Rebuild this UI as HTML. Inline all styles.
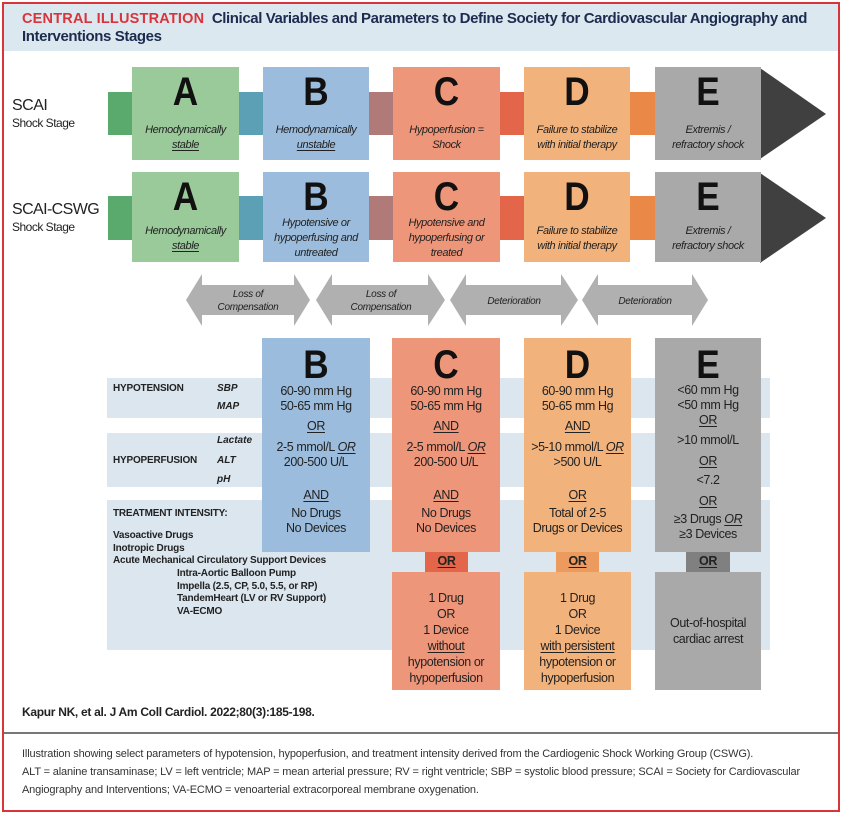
<!DOCTYPE html>
<html><head><meta charset="utf-8"><style>
*{margin:0;padding:0;box-sizing:border-box}
body{width:843px;height:818px;background:#fff;position:relative;overflow:hidden;font-family:"Liberation Sans",sans-serif;color:#222}
.a{position:absolute}
.box{position:absolute;text-align:center}
.L{font-family:"Liberation Sans",sans-serif;font-weight:bold;font-size:40px;color:#111;position:absolute;left:0;right:0;line-height:38px;transform:scaleX(0.88)}
.it{position:absolute;left:-4px;right:-4px;font-style:italic;font-size:11px;letter-spacing:-0.4px;line-height:15px;color:#222}
.t{position:absolute;left:-4px;right:-4px;font-size:12.5px;letter-spacing:-0.4px;line-height:15px;color:#222}
u{text-underline-offset:2px}
.band{position:absolute;left:107px;width:663px;background:#dbe6ef}
.lb{position:absolute;font-size:10px;letter-spacing:-0.2px;font-weight:bold;color:#222;white-space:nowrap}
.li{position:absolute;font-size:10px;font-weight:bold;font-style:italic;color:#222}
</style></head><body>
<div class="a" style="left:2px;top:2px;width:838px;height:810px;border:2px solid #d9343a"></div>
<div class="a" style="left:4px;top:4px;width:834px;height:47px;background:#dce8f0"></div>
<div class="a" style="left:22px;top:10px;font-size:15px;line-height:18px;color:#1d2b4f;font-weight:bold;width:815px;white-space:nowrap;letter-spacing:-0.4px"><span style="color:#d9343a;font-size:14.5px;letter-spacing:0.2px">CENTRAL ILLUSTRATION</span>&nbsp; Clinical Variables and Parameters to Define Society for Cardiovascular Angiography and<br>Interventions Stages</div>

<div class="a" style="left:12px;top:97px;font-size:16px;line-height:18px;letter-spacing:-0.5px">SCAI</div>
<div class="a" style="left:12px;top:116px;font-size:12px;letter-spacing:-0.5px">Shock Stage</div>
<div class="a" style="left:12px;top:201px;font-size:16px;line-height:18px;letter-spacing:-0.6px">SCAI-CSWG</div>
<div class="a" style="left:12px;top:220px;font-size:12px;letter-spacing:-0.5px">Shock Stage</div>

<div class="a" style="left:108px;top:92px;width:25px;height:43px;background:#5aaa6e"></div>
<div class="a" style="left:239px;top:92px;width:25px;height:43px;background:#5ba0b4"></div>
<div class="a" style="left:369px;top:92px;width:25px;height:43px;background:#b07a78"></div>
<div class="a" style="left:500px;top:92px;width:25px;height:43px;background:#e4664a"></div>
<div class="a" style="left:630px;top:92px;width:25px;height:43px;background:#ea8848"></div>
<svg class="a" style="left:760px;top:68px" width="70" height="92"><polygon points="0,0 66,46 0,91" fill="#404040"/></svg>
<div class="a" style="left:108px;top:196px;width:25px;height:44px;background:#5aaa6e"></div>
<div class="a" style="left:239px;top:196px;width:25px;height:44px;background:#5ba0b4"></div>
<div class="a" style="left:369px;top:196px;width:25px;height:44px;background:#b07a78"></div>
<div class="a" style="left:500px;top:196px;width:25px;height:44px;background:#e4664a"></div>
<div class="a" style="left:630px;top:196px;width:25px;height:44px;background:#ea8848"></div>
<svg class="a" style="left:760px;top:173px" width="70" height="92"><polygon points="0,0 66,45 0,90" fill="#404040"/></svg>

<div class="box" style="left:132px;top:67px;width:107px;height:93px;background:#9ac99a"><div class="L" style="top:6px">A</div><div class="it" style="top:56px">Hemodynamically<br><u>stable</u></div></div>
<div class="box" style="left:263px;top:67px;width:106px;height:93px;background:#9bbcdc"><div class="L" style="top:6px">B</div><div class="it" style="top:56px">Hemodynamically<br><u>unstable</u></div></div>
<div class="box" style="left:393px;top:67px;width:107px;height:93px;background:#ee967a"><div class="L" style="top:6px">C</div><div class="it" style="top:56px">Hypoperfusion =<br>Shock</div></div>
<div class="box" style="left:524px;top:67px;width:106px;height:93px;background:#f2b27c"><div class="L" style="top:6px">D</div><div class="it" style="top:56px">Failure to stabilize<br>with initial therapy</div></div>
<div class="box" style="left:655px;top:67px;width:106px;height:93px;background:#a9a9a9"><div class="L" style="top:6px">E</div><div class="it" style="top:56px">Extremis /<br>refractory shock</div></div>

<div class="box" style="left:132px;top:172px;width:107px;height:90px;background:#9ac99a"><div class="L" style="top:6px">A</div><div class="it" style="top:52px">Hemodynamically<br><u>stable</u></div></div>
<div class="box" style="left:263px;top:172px;width:106px;height:90px;background:#9bbcdc"><div class="L" style="top:6px">B</div><div class="it" style="top:44px">Hypotensive or<br>hypoperfusing and<br>untreated</div></div>
<div class="box" style="left:393px;top:172px;width:107px;height:90px;background:#ee967a"><div class="L" style="top:6px">C</div><div class="it" style="top:44px">Hypotensive and<br>hypoperfusing or<br>treated</div></div>
<div class="box" style="left:524px;top:172px;width:106px;height:90px;background:#f2b27c"><div class="L" style="top:6px">D</div><div class="it" style="top:52px">Failure to stabilize<br>with initial therapy</div></div>
<div class="box" style="left:655px;top:172px;width:106px;height:90px;background:#a9a9a9"><div class="L" style="top:6px">E</div><div class="it" style="top:52px">Extremis /<br>refractory shock</div></div>

<svg class="a" style="left:0;top:268px" width="843" height="64">
<g fill="#b0b0b0">
<polygon points="186,32 202,6 202,17 294,17 294,6 310,32 294,58 294,47 202,47 202,58"/>
<polygon points="316,32 332,6 332,17 428,17 428,6 445,32 428,58 428,47 332,47 332,58"/>
<polygon points="450,32 466,6 466,17 561,17 561,6 578,32 561,58 561,47 466,47 466,58"/>
<polygon points="582,32 598,6 598,17 692,17 692,6 708,32 692,58 692,47 598,47 598,58"/>
</g>
<g font-family="Liberation Sans,sans-serif" font-style="italic" font-size="10" letter-spacing="-0.3" fill="#222" text-anchor="middle">
<text x="248" y="29">Loss of</text><text x="248" y="42">Compensation</text>
<text x="381" y="29">Loss of</text><text x="381" y="42">Compensation</text>
<text x="514" y="36">Deterioration</text>
<text x="645" y="36">Deterioration</text>
</g></svg>

<div class="band" style="top:378px;height:40px"></div>
<div class="band" style="top:433px;height:54px"></div>
<div class="band" style="top:500px;height:150px"></div>
<div class="lb" style="left:113px;top:383px">HYPOTENSION</div>
<div class="li" style="left:217px;top:383px">SBP</div>
<div class="li" style="left:217px;top:401px">MAP</div>
<div class="li" style="left:217px;top:435px">Lactate</div>
<div class="lb" style="left:113px;top:455px">HYPOPERFUSION</div>
<div class="li" style="left:217px;top:455px">ALT</div>
<div class="li" style="left:217px;top:474px">pH</div>
<div class="lb" style="left:113px;top:508px">TREATMENT INTENSITY:</div>
<div class="lb" style="left:113px;top:530px;line-height:12.5px">Vasoactive Drugs<br>Inotropic Drugs<br>Acute Mechanical Circulatory Support Devices</div>
<div class="lb" style="left:177px;top:568px;line-height:12.5px">Intra-Aortic Balloon Pump<br>Impella (2.5, CP, 5.0, 5.5, or RP)<br>TandemHeart (LV or RV Support)<br>VA-ECMO</div>

<div class="box" style="left:262px;top:338px;width:108px;height:214px;background:#9bbcdc">
<div class="L" style="top:8px">B</div>
<div class="t" style="top:46px">60-90 mm Hg<br>50-65 mm Hg</div>
<div class="t" style="top:81px"><u>OR</u></div>
<div class="t" style="top:102px">2-5 mmol/L <u><i>OR</i></u><br>200-500 U/L</div>
<div class="t" style="top:150px"><u>AND</u></div>
<div class="t" style="top:168px">No Drugs<br>No Devices</div>
</div>
<div class="box" style="left:392px;top:338px;width:108px;height:214px;background:#ee967a">
<div class="L" style="top:8px">C</div>
<div class="t" style="top:46px">60-90 mm Hg<br>50-65 mm Hg</div>
<div class="t" style="top:81px"><u>AND</u></div>
<div class="t" style="top:102px">2-5 mmol/L <u><i>OR</i></u><br>200-500 U/L</div>
<div class="t" style="top:150px"><u>AND</u></div>
<div class="t" style="top:168px">No Drugs<br>No Devices</div>
</div>
<div class="box" style="left:524px;top:338px;width:107px;height:214px;background:#f2b27c">
<div class="L" style="top:8px">D</div>
<div class="t" style="top:46px">60-90 mm Hg<br>50-65 mm Hg</div>
<div class="t" style="top:81px"><u>AND</u></div>
<div class="t" style="top:102px">&gt;5-10 mmol/L <u><i>OR</i></u><br>&gt;500 U/L</div>
<div class="t" style="top:150px"><u>OR</u></div>
<div class="t" style="top:168px">Total of 2-5<br>Drugs or Devices</div>
</div>
<div class="box" style="left:655px;top:338px;width:106px;height:214px;background:#a9a9a9">
<div class="L" style="top:8px">E</div>
<div class="t" style="top:45px">&lt;60 mm Hg<br>&lt;50 mm Hg</div>
<div class="t" style="top:75px"><u>OR</u></div>
<div class="t" style="top:95px">&gt;10 mmol/L</div>
<div class="t" style="top:116px"><u>OR</u></div>
<div class="t" style="top:135px">&lt;7.2</div>
<div class="t" style="top:156px"><u>OR</u></div>
<div class="t" style="top:174px">≥3 Drugs <u><i>OR</i></u><br>≥3 Devices</div>
</div>
<div class="box" style="left:425px;top:552px;width:43px;height:20px;background:#e4664a"><div class="t" style="top:2px;font-weight:bold"><u>OR</u></div></div>
<div class="box" style="left:556px;top:552px;width:43px;height:20px;background:#ec9a5e"><div class="t" style="top:2px;font-weight:bold"><u>OR</u></div></div>
<div class="box" style="left:686px;top:552px;width:44px;height:20px;background:#808080"><div class="t" style="top:2px;font-weight:bold"><u>OR</u></div></div>
<div class="box" style="left:392px;top:572px;width:108px;height:118px;background:#ee967a"><div class="t" style="top:18px;line-height:16px">1 Drug<br>OR<br>1 Device<br><u>without</u><br>hypotension or<br>hypoperfusion</div></div>
<div class="box" style="left:524px;top:572px;width:107px;height:118px;background:#f2b27c"><div class="t" style="top:18px;line-height:16px">1 Drug<br>OR<br>1 Device<br><u>with persistent</u><br>hypotension or<br>hypoperfusion</div></div>
<div class="box" style="left:655px;top:572px;width:106px;height:118px;background:#a9a9a9"><div class="t" style="top:43px;line-height:16px">Out-of-hospital<br>cardiac arrest</div></div>

<div class="a" style="left:22px;top:705px;font-size:12px;font-weight:bold;letter-spacing:-0.3px">Kapur NK, et al. J Am Coll Cardiol. 2022;80(3):185-198.</div>
<div class="a" style="left:4px;top:732px;width:834px;height:2px;background:#777"></div>
<div class="a" style="left:22px;top:745px;font-size:11px;line-height:18px;color:#333;width:815px;letter-spacing:-0.15px;white-space:nowrap">Illustration showing select parameters of hypotension, hypoperfusion, and treatment intensity derived from the Cardiogenic Shock Working Group (CSWG).<br>ALT = alanine transaminase; LV = left ventricle; MAP = mean arterial pressure; RV = right ventricle; SBP = systolic blood pressure; SCAI = Society for Cardiovascular<br>Angiography and Interventions; VA-ECMO = venoarterial extracorporeal membrane oxygenation.</div>
</body></html>
